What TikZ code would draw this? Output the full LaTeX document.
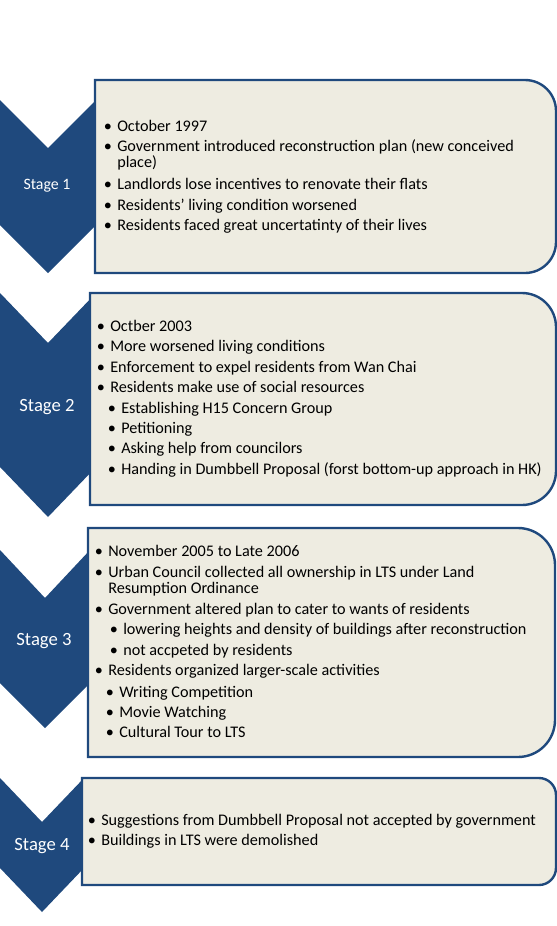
\documentclass[tikz,border=0pt]{standalone}
\usepackage{fontspec}
\setmainfont{Carlito}
\definecolor{stageblue}{RGB}{31,73,125}
\definecolor{boxfill}{RGB}{238,236,225}
\newcommand{\bul}{\llap{\textbullet\hspace{4pt}}}

\begin{document}
\begin{tikzpicture}[x=0.75pt,y=-0.75pt,
  chev/.style={fill=stageblue},
  panel/.style={fill=boxfill,draw=stageblue,line width=1.8pt},
  stagelbl/.style={text=white,font=\fontsize{14}{16}\selectfont},
  txt/.style={anchor=base west,inner sep=0pt,font=\fontsize{12.15}{14}\selectfont}]
\useasboundingbox (0,0) rectangle (557,926);
% ================ Stage 1 ================
\fill[chev] (0,100) -- (48,148) -- (96,100) -- (96,225) -- (48,273) -- (0,225) -- cycle;
\draw[panel] (95,273) -- (95,80) -- (525,80) arc[start angle=90,end angle=0,radius=23.25pt]
  -- (556,242) arc[start angle=0,end angle=-90,radius=23.25pt] -- cycle;
\node[stagelbl,font=\fontsize{11.9}{14}\selectfont] (st1) at (47,186) {Stage 1};
\node[txt] (a1) at (117,131) {\bul October 1997};
\node[txt] (a2) at (117,151) {\bul Government\ introduced\ reconstruction\ plan (new conceived};
\node[txt] (a3) at (117,167) {place)};
\node[txt] (a4) at (117,189) {\bul Landlords lose incentives to renovate their flats};
\node[txt] (a5) at (117,210) {\bul Residents' living condition worsened};
\node[txt] (a6) at (117,230) {\bul Residents faced great uncertatinty of their lives};
% ================ Stage 2 ================
\fill[chev] (0,293) -- (48,343) -- (96,293) -- (96,467) -- (48,517) -- (0,467) -- cycle;
\draw[panel] (90,505) -- (90,293) -- (522,293) arc[start angle=90,end angle=0,radius=25.5pt]
  -- (556,471) arc[start angle=0,end angle=-90,radius=25.5pt] -- cycle;
\node[stagelbl] (st2) at (47,407) {Stage 2};
\node[txt] (b1) at (110,331) {\bul Octber 2003};
\node[txt] (b2) at (110,351) {\bul More worsened living conditions};
\node[txt] (b3) at (110,372) {\bul Enforcement to expel residents from Wan Chai};
\node[txt] (b4) at (110,392) {\bul Residents make use of social resources};
\node[txt] (b5) at (121,413) {\bul Establishing H15 Concern Group};
\node[txt] (b6) at (121,433) {\bul Petitioning};
\node[txt] (b7) at (121,453) {\bul Asking help from councilors};
\node[txt] (b8) at (121,474) {\bul Handing in Dumbbell Proposal (forst bottom-up approach in HK)};
% ================ Stage 3 ================
\fill[chev] (0,550) -- (45,598) -- (90,550) -- (90,683) -- (45,728) -- (0,683) -- cycle;
\draw[panel] (88,757) -- (88,528) -- (518,528) arc[start angle=90,end angle=0,radius=27.75pt]
  -- (555,720) arc[start angle=0,end angle=-90,radius=27.75pt] -- cycle;
\node[stagelbl] (st3) at (44,641) {Stage 3};
\node[txt] (c1) at (108,556) {\bul November\ 2005 to Late 2006};
\node[txt] (c2) at (108,577) {\bul Urban Council collected all ownership in LTS under Land};
\node[txt] (c3) at (108,593) {Resumption Ordinance};
\node[txt] (c4) at (108,614) {\bul Government\ altered plan to cater to wants of residents};
\node[txt] (c5) at (123,634) {\bul lowering heights and density of buildings after reconstruction};
\node[txt] (c6) at (123,655) {\bul not accpeted by residents};
\node[txt] (c7) at (108,675) {\bul Residents organized larger-scale activities};
\node[txt] (c8) at (119,697) {\bul Writing Competition};
\node[txt] (c9) at (119,717) {\bul Movie\ Watching};
\node[txt] (c10) at (119,737) {\bul Cultural Tour to LTS};
% ================ Stage 4 ================
\fill[chev] (0,778) -- (42,822) -- (84,778) -- (84,868) -- (42,912) -- (0,868) -- cycle;
\draw[panel] (82,885) -- (82,778) -- (539,778) arc[start angle=90,end angle=0,radius=12.75pt]
  -- (556,868) arc[start angle=0,end angle=-90,radius=12.75pt] -- cycle;
\node[stagelbl] (st4) at (42,846) {Stage 4};
\node[txt] (d1) at (101,825) {\bul Suggestions from Dumbbell Proposal not accepted by government};
\node[txt] (d2) at (101,845) {\bul Buildings in LTS were demolished};
\end{tikzpicture}
\end{document}
